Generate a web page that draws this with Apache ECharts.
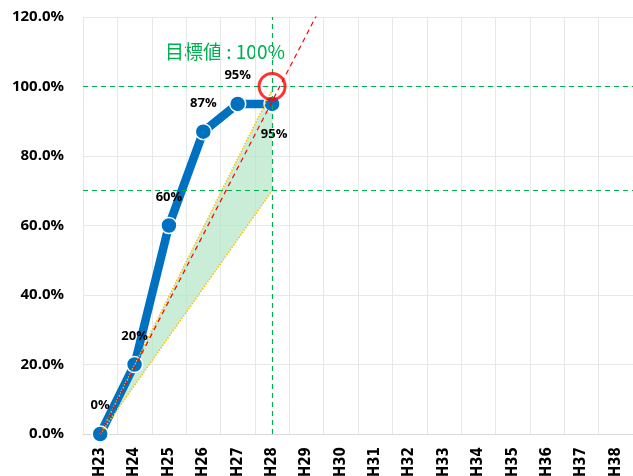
<!DOCTYPE html>
<html>
<head>
<meta charset="utf-8">
<script src="https://cdn.jsdelivr.net/npm/echarts@6/dist/echarts.min.js"></script>
<style>
  html, body { margin: 0; padding: 0; background: #fff; }
  #chart { width: 633px; height: 476px; }
</style>
</head>
<body>
<div id="chart"></div>
<script>
// fiscal years (Heisei)
const years = ['H23', 'H24', 'H25', 'H26', 'H27', 'H28', 'H29', 'H30',
  'H31', 'H32', 'H33', 'H34', 'H35', 'H36', 'H37', 'H38'];
// actual progress (%)
const actual = [0, 20, 60, 87, 95, 95];
// red dashed trend line, clipped at the top of the plot
const trend = [['H23', 0], ['H30', 134]];
// green band edges
const bandUpper = [['H23', 0], ['H28', 99]];
const bandLower = [['H23', 0], ['H28', 70]];
// target
const targetYear = 'H28';
const targetValue = 100;
const guideLevels = [100, 70];
const targetText = '目標値 : 100%';

const font = '"Open Sans"';
const green = '#00B050';

const chart = echarts.init(document.getElementById('chart'));

// the last point's label goes below the marker
const actualItems = actual.map((v, i) => (i === actual.length - 1
  ? { value: v, label: { position: 'bottom', distance: 15, offset: [2, 0] } }
  : v));

chart.setOption({
  animation: false,
  grid: { left: 83, right: 0, top: 17, bottom: 42, outerBoundsMode: 'none' },
  xAxis: {
    type: 'category',
    data: years,
    boundaryGap: true,
    axisLine: { lineStyle: { color: '#d9d9d9' } },
    axisTick: { show: false },
    axisLabel: {
      rotate: 90,
      margin: 13,
      color: '#000',
      fontFamily: '"Liberation Sans Narrow", "DejaVu Sans Condensed", sans-serif',
      fontWeight: 'bold',
      fontSize: 15,
      interval: 0,
    },
    splitLine: { show: true, lineStyle: { color: '#e8e8e8', width: 1 } },
  },
  yAxis: {
    type: 'value',
    min: 0,
    max: 120,
    interval: 20,
    axisLine: { show: false },
    axisTick: { show: false },
    axisLabel: {
      margin: 19,
      color: '#000',
      fontFamily: font,
      fontWeight: 'bold',
      fontSize: 15,
      formatter: (v) => v.toFixed(1) + '%',
    },
    splitLine: { lineStyle: { color: '#e8e8e8', width: 1 } },
  },
  graphic: [{
    type: 'text',
    left: 165,
    top: 42,
    style: {
      text: targetText,
      fill: green,
      font: '19px "Noto Sans CJK JP"',
    },
  }],
  series: [
    {
      // shaded band between the two edges
      type: 'custom',
      z: 1,
      data: [0],
      renderItem: (params, api) => {
        const pts = [
          api.coord(bandUpper[0]),
          api.coord(bandUpper[1]),
          api.coord(bandLower[1]),
          api.coord(bandLower[0]),
        ];
        return {
          type: 'polygon',
          shape: { points: pts },
          style: { fill: 'rgba(180,230,200,0.7)' },
        };
      },
      silent: true,
    },
    {
      type: 'line',
      z: 2,
      data: actualItems,
      lineStyle: { color: '#0070C0', width: 8.5 },
      itemStyle: { color: '#0070C0', borderColor: '#fff', borderWidth: 1.5 },
      symbol: 'circle',
      symbolSize: 16,
      label: {
        show: true,
        position: 'top',
        distance: 13,
        color: '#000',
        fontFamily: font,
        fontWeight: 'bold',
        fontSize: 13,
        formatter: '{c}%',
      },
      markLine: {
        silent: true,
        symbol: 'none',
        label: { show: false },
        lineStyle: { color: green, type: [5, 4], width: 1.2 },
        data: [
          { yAxis: guideLevels[0] },
          { yAxis: guideLevels[1] },
          { xAxis: targetYear },
        ],
      },
    },
    {
      type: 'line',
      z: 4,
      data: bandUpper,
      symbol: 'none',
      lineStyle: { color: '#FFC000', width: 1.5, type: 'dotted' },
    },
    {
      type: 'line',
      z: 4,
      data: bandLower,
      symbol: 'none',
      lineStyle: { color: '#FFC000', width: 1.5, type: 'dotted' },
    },
    {
      type: 'line',
      z: 5,
      data: trend,
      symbol: 'none',
      lineStyle: { color: '#FF0000', width: 1.2, type: [5, 4] },
    },
    {
      type: 'scatter',
      z: 6,
      data: [[targetYear, targetValue]],
      symbol: 'circle',
      symbolSize: 26,
      itemStyle: { color: 'rgba(0,0,0,0)', borderColor: '#FF0000', borderWidth: 3 },
    },
  ],
});
</script>
</body>
</html>
